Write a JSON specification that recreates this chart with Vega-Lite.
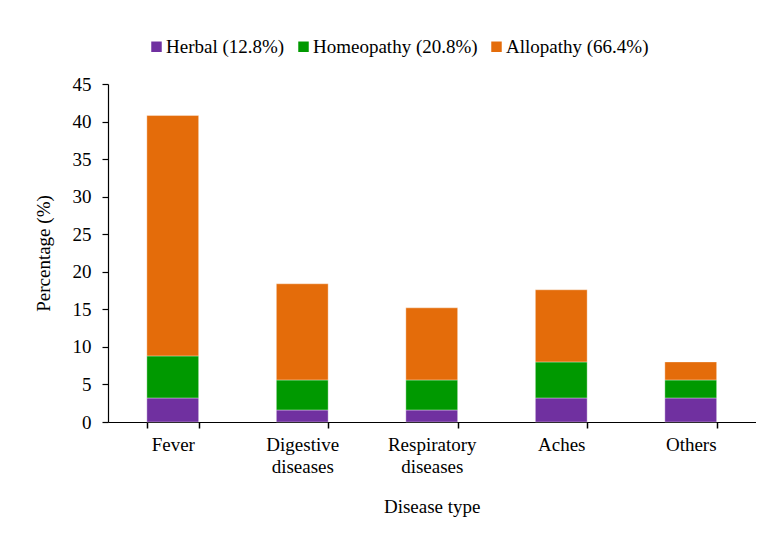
{
  "$schema": "https://vega.github.io/schema/vega-lite/v6.json",
  "width": 647.5,
  "height": 338,
  "autosize": {"type": "none"},
  "padding": {"left": 108, "top": 84, "right": 6.5, "bottom": 113},
  "background": "white",
  "data": {
    "values": [
      {"disease": "Fever", "system": "Herbal (12.8%)", "pct": 3.2},
      {"disease": "Fever", "system": "Homeopathy (20.8%)", "pct": 5.6},
      {"disease": "Fever", "system": "Allopathy (66.4%)", "pct": 32.0},
      {"disease": "Digestive diseases", "system": "Herbal (12.8%)", "pct": 1.6},
      {"disease": "Digestive diseases", "system": "Homeopathy (20.8%)", "pct": 4.0},
      {"disease": "Digestive diseases", "system": "Allopathy (66.4%)", "pct": 12.8},
      {"disease": "Respiratory diseases", "system": "Herbal (12.8%)", "pct": 1.6},
      {"disease": "Respiratory diseases", "system": "Homeopathy (20.8%)", "pct": 4.0},
      {"disease": "Respiratory diseases", "system": "Allopathy (66.4%)", "pct": 9.6},
      {"disease": "Aches", "system": "Herbal (12.8%)", "pct": 3.2},
      {"disease": "Aches", "system": "Homeopathy (20.8%)", "pct": 4.8},
      {"disease": "Aches", "system": "Allopathy (66.4%)", "pct": 9.6},
      {"disease": "Others", "system": "Herbal (12.8%)", "pct": 3.2},
      {"disease": "Others", "system": "Homeopathy (20.8%)", "pct": 2.4},
      {"disease": "Others", "system": "Allopathy (66.4%)", "pct": 2.4}
    ]
  },
  "transform": [
    {"calculate": "indexof(['Herbal (12.8%)', 'Homeopathy (20.8%)', 'Allopathy (66.4%)'], datum.system)", "as": "stackRank"}
  ],
  "mark": {"type": "bar", "stroke": "#ffffff", "strokeOpacity": 0.45, "strokeWidth": 0.8},
  "encoding": {
    "x": {
      "field": "disease",
      "type": "nominal",
      "sort": ["Fever", "Digestive diseases", "Respiratory diseases", "Aches", "Others"],
      "scale": {"paddingInner": 0.6, "paddingOuter": 0.3},
      "axis": {
        "title": "Disease type",
        "labelAngle": 0,
        "labelExpr": "split(datum.label, ' ')",
        "labelLineHeight": 22,
        "labelPadding": 7,
        "ticks": true,
        "tickBand": "extent",
        "tickSize": 6,
        "tickWidth": 1.5,
        "tickColor": "#000000",
        "tickOpacity": 1,
        "titlePadding": 21,
        "encode": {
          "ticks": {
            "update": {
              "stroke": {"value": "#000000"},
              "strokeOpacity": {"value": 1},
              "strokeWidth": {"value": 1.5}
            }
          }
        }
      }
    },
    "y": {
      "field": "pct",
      "type": "quantitative",
      "stack": "zero",
      "scale": {"domain": [0, 45], "nice": false},
      "axis": {
        "title": "Percentage (%)",
        "values": [0, 5, 10, 15, 20, 25, 30, 35, 40, 45],
        "grid": false,
        "tickSize": 6,
        "labelPadding": 11,
        "titlePadding": 19
      }
    },
    "color": {
      "field": "system",
      "type": "nominal",
      "scale": {
        "domain": ["Herbal (12.8%)", "Homeopathy (20.8%)", "Allopathy (66.4%)"],
        "range": ["#7030A0", "#009900", "#E46C0A"]
      },
      "legend": {
        "title": null,
        "orient": "none",
        "direction": "horizontal",
        "legendX": 39,
        "legendY": -47,
        "symbolType": "square",
        "symbolSize": 110,
        "symbolStrokeWidth": 0,
        "labelOffset": 0,
        "columnPadding": 9
      }
    },
    "order": {"field": "stackRank", "type": "quantitative"}
  },
  "config": {
    "font": "Liberation Serif",
    "view": {"stroke": null},
    "axis": {
      "domainColor": "#000000",
      "domainWidth": 1.2,
      "labelFont": "Liberation Serif",
      "labelFontSize": 19,
      "labelColor": "#000000",
      "titleFont": "Liberation Serif",
      "titleFontSize": 19,
      "titleFontWeight": "normal",
      "titleColor": "#000000"
    },
    "axisY": {"tickColor": "#000000", "tickWidth": 1.2},
    "legend": {
      "labelFont": "Liberation Serif",
      "labelFontSize": 19,
      "labelColor": "#000000",
      "labelLimit": 300
    }
  }
}
